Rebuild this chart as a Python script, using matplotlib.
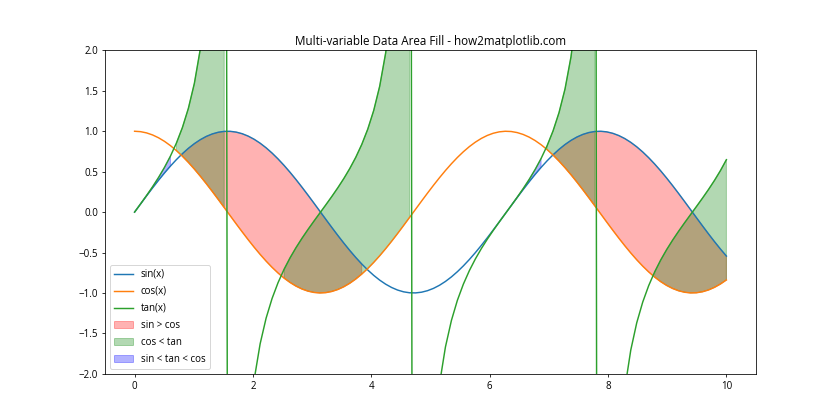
import numpy as np
import matplotlib
matplotlib.use("Agg")
import matplotlib.pyplot as plt

plt.rcParams['font.family'] = ['Open Sans', 'DejaVu Sans']

# data: the three curves named in the legend, sampled at 100 points on [0, 10]
x = np.linspace(0, 10, 100)
y_sin = np.sin(x)
y_cos = np.cos(x)
y_tan = np.tan(x)

plt.figure(figsize=(12, 6))
plt.plot(x, y_sin, label="sin(x)")
plt.plot(x, y_cos, label="cos(x)")
plt.plot(x, y_tan, label="tan(x)")

plt.fill_between(x, y_sin, y_cos, where=(y_sin > y_cos), color="red", alpha=0.3, label="sin > cos")
plt.fill_between(x, y_cos, y_tan, where=(y_cos < y_tan), color="green", alpha=0.3, label="cos < tan")
plt.fill_between(x, y_sin, y_tan, where=(y_sin < y_tan) & (y_tan < y_cos), color="blue", alpha=0.3,
                 label="sin < tan < cos")

plt.ylim(-2, 2)
plt.title("Multi-variable Data Area Fill - how2matplotlib.com")
plt.legend(loc="lower left", labelspacing=0.62)
plt.savefig("out.png", dpi=70)
